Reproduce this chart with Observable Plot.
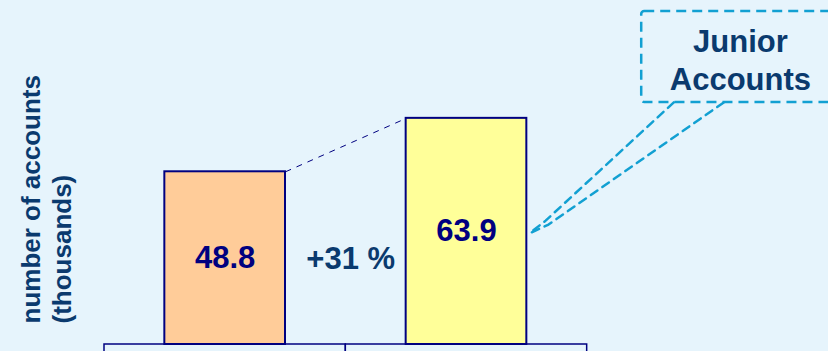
<!DOCTYPE html>
<html>
<head>
<meta charset="utf-8">
<script src="https://cdn.jsdelivr.net/npm/d3@7"></script>
<script src="https://cdn.jsdelivr.net/npm/@observablehq/plot@0.6"></script>
<style>
  html, body { margin: 0; padding: 0; background: #E6F4FC; }
  #chart svg { display: block; }
</style>
</head>
<body>
<div id="chart"></div>
<script>
// Account counts (thousands) for the two periods compared
const categories = ["Period 1", "Period 2"];
const accounts = [48.8, 63.9];
const barColors = ["#FFCC99", "#FFFF99"];
const yLabel = "number of accounts\n(thousands)";
const calloutLabel = "Junior\nAccounts";

const rows = categories.map((c, i) => ({ c, i, v: accounts[i] }));
const growth = Math.round((accounts[1] / accounts[0] - 1) * 100);

const navy = "#000080";
const ink = "#0A3A6E";
const cyan = "#12A0D2";
const bg = "#E6F4FC";
const font = "'Liberation Sans', Arial, sans-serif";

// Callout box and its two leader lines, in chart units
const calloutBox = { x1: 1.726, x2: 2.7, y1: 68.4, y2: 94.1 };
const leaders = [
  [[1.859, 68.4], [1.328, 35.0], [1.261, 31.4]],
  [[2.066, 68.4], [1.340, 33.9], [1.261, 31.4]]
].flatMap((pts, k) => pts.map(([x, y]) => ({ x, y, k })));

const chart = Plot.plot({
  width: 828,
  height: 351,
  marginLeft: 104,
  marginRight: 0,
  marginTop: 0,
  marginBottom: 7,
  style: { background: bg, fontFamily: font },
  x: { type: "linear", domain: [-0.5, 2.5], axis: null },
  y: { domain: [0, 97.2], axis: null },
  color: { domain: categories, range: barColors },
  marks: [
    // category cells under the baseline
    Plot.rect(rows, {
      x1: d => d.i - 0.5, x2: d => d.i + 0.5,
      y1: () => 0, y2: () => -12,
      fill: bg, stroke: navy, strokeWidth: 1.5
    }),
    // bars
    Plot.rect(rows, {
      x1: d => d.i - 0.25, x2: d => d.i + 0.25,
      y1: () => 0, y2: "v",
      fill: "c", stroke: navy, strokeWidth: 2
    }),
    // dashed connector between bar tops
    Plot.link([0], {
      x1: () => 0.25, y1: () => accounts[0],
      x2: () => 0.75, y2: () => accounts[1],
      stroke: navy, strokeWidth: 1, strokeDasharray: "6,6"
    }),
    // values inside bars
    Plot.text(rows, {
      x: "i", y: d => d.v / 2, text: d => d.v.toFixed(1),
      fontSize: 31, fontWeight: "bold", fill: navy, lineAnchor: "middle"
    }),
    // growth label
    Plot.text([`+${growth} %`], {
      x: () => 0.52, y: () => 24,
      fontSize: 31, fontWeight: "bold", fill: ink, lineAnchor: "middle"
    }),
    // y-axis title
    Plot.text([yLabel], {
      frameAnchor: "bottom-left", dx: -86, dy: -21, rotate: -90,
      textAnchor: "start", lineAnchor: "top", lineHeight: 1.19,
      fontSize: 26, fontWeight: "bold", fill: ink
    }),
    // callout
    Plot.line(leaders, {
      x: "x", y: "y", z: "k",
      stroke: cyan, strokeWidth: 2.5, strokeDasharray: "8,6"
    }),
    Plot.rect([calloutBox], {
      x1: "x1", x2: "x2", y1: "y1", y2: "y2",
      fill: "none", stroke: cyan, strokeWidth: 2.5, strokeDasharray: "10,6", rx: 3
    }),
    Plot.text([calloutLabel], {
      x: () => 2.135, y: () => 80.8,
      lineAnchor: "middle", lineHeight: 1.23,
      fontSize: 31, fontWeight: "bold", fill: ink
    })
  ]
});

document.getElementById("chart").append(chart);
</script>
</body>
</html>
